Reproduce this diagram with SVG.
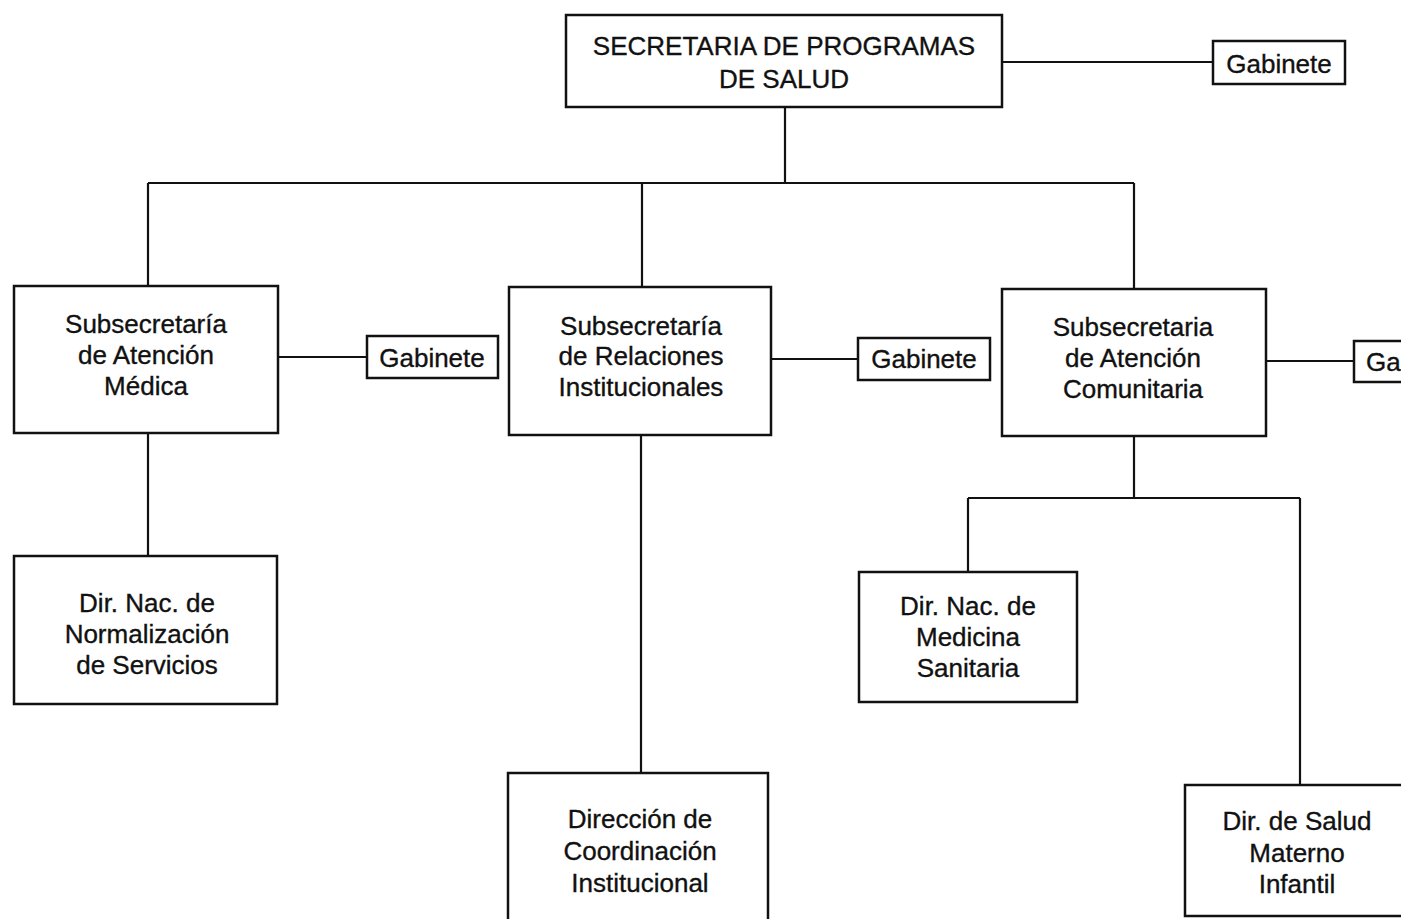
<svg xmlns="http://www.w3.org/2000/svg" width="1401" height="919" viewBox="0 0 1401 919">
<style>
.box{fill:#fff;stroke:#111;stroke-width:2.5}
.ln{fill:none;stroke:#111;stroke-width:2.2}
text{font-family:"Liberation Sans",Arial,Helvetica,sans-serif;font-size:26px;fill:#111;stroke:#111;stroke-width:0.35;text-anchor:middle}
</style>
<rect width="1401" height="919" fill="#fff"/>
<g id="connectors">
<path class="ln" d="M785,107 V183 M148,183 H1134 M148,183 V286 M642,183 V287 M1134,183 V289"/>
<path class="ln" d="M1002,62 H1213"/>
<path class="ln" d="M278,357 H367 M771,359 H858 M1266,361 H1354"/>
<path class="ln" d="M148,433 V556"/>
<path class="ln" d="M641,435 V773"/>
<path class="ln" d="M1134,436 V498 M968,498 H1300 M968,498 V572 M1300,498 V785"/>
</g>
<g id="secretaria">
<rect class="box" x="566" y="15" width="436" height="92"/>
<text x="784" y="55">SECRETARIA DE PROGRAMAS</text>
<text x="784" y="88">DE SALUD</text>
</g>
<g id="gabinete-top">
<rect class="box" x="1213" y="41" width="132" height="43"/>
<text x="1279" y="73">Gabinete</text>
</g>
<g id="sub-atencion-medica">
<rect class="box" x="14" y="286" width="264" height="147"/>
<text x="146" y="333">Subsecretaría</text>
<text x="146" y="364">de Atención</text>
<text x="146" y="395">Médica</text>
</g>
<g id="gabinete-medica">
<rect class="box" x="367" y="336" width="131" height="42"/>
<text x="432" y="367">Gabinete</text>
</g>
<g id="sub-relaciones">
<rect class="box" x="509" y="287" width="262" height="148"/>
<text x="641" y="335">Subsecretaría</text>
<text x="641" y="365">de Relaciones</text>
<text x="641" y="396">Institucionales</text>
</g>
<g id="gabinete-relaciones">
<rect class="box" x="858" y="338" width="132" height="42"/>
<text x="924" y="368">Gabinete</text>
</g>
<g id="sub-comunitaria">
<rect class="box" x="1002" y="289" width="264" height="147"/>
<text x="1133" y="336">Subsecretaria</text>
<text x="1133" y="367">de Atención</text>
<text x="1133" y="398">Comunitaria</text>
</g>
<g id="gabinete-comunitaria">
<rect class="box" x="1354" y="341" width="132" height="41"/>
<text x="1366" y="371" style="text-anchor:start">Gabinete</text>
</g>
<g id="dir-normalizacion">
<rect class="box" x="14" y="556" width="263" height="148"/>
<text x="147" y="612">Dir. Nac. de</text>
<text x="147" y="643">Normalización</text>
<text x="147" y="674">de Servicios</text>
</g>
<g id="dir-coordinacion">
<rect class="box" x="508" y="773" width="260" height="170"/>
<text x="640" y="828">Dirección de</text>
<text x="640" y="860">Coordinación</text>
<text x="640" y="892">Institucional</text>
</g>
<g id="dir-medicina">
<rect class="box" x="859" y="572" width="218" height="130"/>
<text x="968" y="615">Dir. Nac. de</text>
<text x="968" y="646">Medicina</text>
<text x="968" y="677">Sanitaria</text>
</g>
<g id="dir-materno">
<rect class="box" x="1185" y="785" width="240" height="131"/>
<text x="1297" y="830">Dir. de Salud</text>
<text x="1297" y="862">Materno</text>
<text x="1297" y="893">Infantil</text>
</g>
</svg>
